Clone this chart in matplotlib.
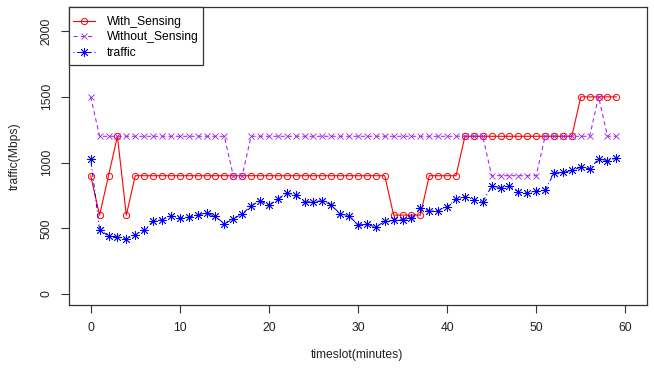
import matplotlib
matplotlib.use("Agg")
import matplotlib.pyplot as plt
from matplotlib.patches import Rectangle

plt.rcParams["font.family"] = ["Liberation Sans", "DejaVu Sans"]

# timeslots 0..59 (minutes)
timeslot = list(range(60))

with_sensing = [
    900, 600, 900, 1200, 600, 900, 900, 900, 900, 900,
    900, 900, 900, 900, 900, 900, 900, 900, 900, 900,
    900, 900, 900, 900, 900, 900, 900, 900, 900, 900,
    900, 900, 900, 900, 600, 600, 600, 600, 900, 900,
    900, 900, 1200, 1200, 1200, 1200, 1200, 1200, 1200, 1200,
    1200, 1200, 1200, 1200, 1200, 1500, 1500, 1500, 1500, 1500,
]
without_sensing = [
    1500, 1200, 1200, 1200, 1200, 1200, 1200, 1200, 1200, 1200,
    1200, 1200, 1200, 1200, 1200, 1200, 900, 900, 1200, 1200,
    1200, 1200, 1200, 1200, 1200, 1200, 1200, 1200, 1200, 1200,
    1200, 1200, 1200, 1200, 1200, 1200, 1200, 1200, 1200, 1200,
    1200, 1200, 1200, 1200, 1200, 900, 900, 900, 900, 900,
    900, 1200, 1200, 1200, 1200, 1200, 1200, 1500, 1200, 1200,
]
traffic = [
    1028, 490, 440, 435, 415, 452, 485, 552, 565, 595,
    578, 585, 602, 615, 590, 535, 570, 610, 670, 710,
    675, 720, 770, 752, 700, 702, 710, 677, 610, 595,
    525, 530, 510, 552, 560, 565, 575, 652, 635, 632,
    665, 720, 740, 718, 702, 820, 810, 820, 778, 765,
    785, 790, 920, 925, 940, 965, 952, 1028, 1015, 1035,
]

x_ticks = [0, 10, 20, 30, 40, 50, 60]
y_ticks = [0, 500, 1000, 1500, 2000]

FS = 8.7
W, H = 654, 372
fig = plt.figure(figsize=(W / 100, H / 100), dpi=100)
ax = fig.add_axes([69.3 / W, 1 - 305 / H, (646.7 - 69.3) / W, (305 - 7) / H])

ax.plot(timeslot, with_sensing, color="#FF0000", lw=0.8, marker="o", ms=4.5,
        mfc="none", mew=0.7, label="With_Sensing")
ax.plot(timeslot, without_sensing, color="#A020F0", lw=0.75, ls=(0, (4, 3)),
        marker="x", ms=5, mew=0.6, label="Without_Sensing")
ax.plot(timeslot, traffic, color="#0000FF", lw=0.75, ls=(0, (1, 2.5, 4, 2.5)),
        marker=(8, 2, 0), ms=6.5, mew=0.6, label="traffic")

ax.set_xlim(-2.4, 62.4)
ax.set_ylim(-84, 2184)
ax.set_xticks(x_ticks)
ax.set_yticks(y_ticks)
ax.tick_params(direction="out", length=5.5, width=0.8, pad=6.5, labelsize=FS,
               color="#333333", labelcolor="#222222")
for lab in ax.get_yticklabels():
    lab.set_rotation(90)
    lab.set_va("center")
for s in ax.spines.values():
    s.set_linewidth(0.9)
    s.set_color("#333333")

fig.text(357 / W, 1 - 355 / H, "timeslot(minutes)", ha="center", va="center",
         fontsize=FS, color="#222222")
fig.text(15 / W, 1 - 156 / H, "traffic(Mbps)", ha="center", va="center",
         rotation=90, fontsize=FS, color="#222222")

# legend box drawn separately, like R's legend("topleft")
box = Rectangle((69.3 / W, 1 - 65 / H), (203.3 - 69.3) / W, (65 - 6.7) / H,
                transform=fig.transFigure, facecolor="white",
                edgecolor="#333333", lw=0.9, zorder=4, clip_on=False)
ax.add_patch(box)
leg = ax.legend(loc="upper left", bbox_to_anchor=(73 / W, 1 - 16 / H),
                bbox_transform=fig.transFigure, borderaxespad=0, borderpad=0,
                frameon=False, fontsize=FS, handlelength=1.85,
                labelspacing=0.28, handletextpad=0.95)
leg.set_zorder(5)

fig.savefig("out.png", dpi=100)
